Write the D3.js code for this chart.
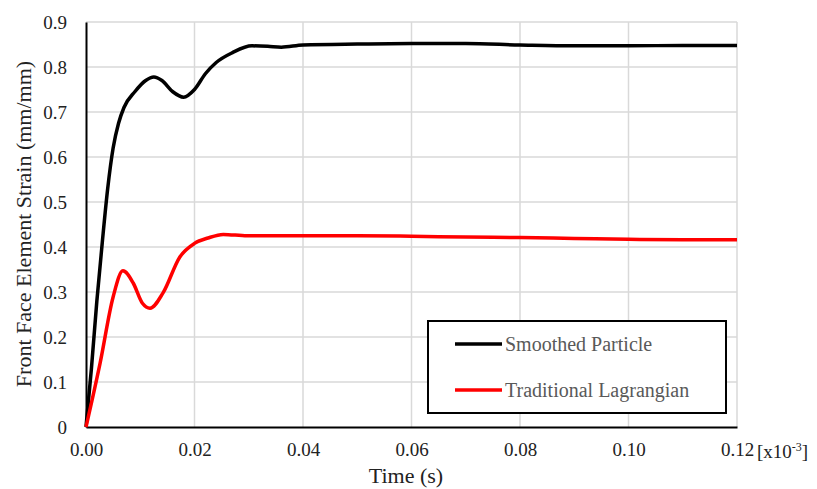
<!DOCTYPE html>
<html>
<head>
<meta charset="utf-8">
<script src="https://cdn.jsdelivr.net/npm/d3@7"></script>
<style>
  body { margin: 0; background: #fff; }
  svg text { font-family: "Liberation Serif", "Times New Roman", serif !important; }
</style>
</head>
<body>
<div class="canvas"></div>
<script>
// data (time in 1e-3 s, strain in mm/mm)
const smoothedTime = [0, 0.001, 0.002, 0.003, 0.004, 0.005, 0.006, 0.007, 0.009, 0.011, 0.0125, 0.014, 0.016, 0.018, 0.02, 0.022, 0.024, 0.027, 0.0306, 0.0335, 0.036, 0.04, 0.05, 0.06, 0.07, 0.08, 0.09, 0.1, 0.11, 0.12];
const smoothedStrain = [0.0, 0.13, 0.28, 0.41, 0.53, 0.62, 0.675, 0.71, 0.745, 0.77, 0.778, 0.77, 0.745, 0.733, 0.75, 0.785, 0.81, 0.832, 0.847, 0.846, 0.844, 0.849, 0.851, 0.852, 0.852, 0.849, 0.847, 0.847, 0.848, 0.848];
const lagrangeTime = [0, 0.0026, 0.005, 0.0068, 0.0087, 0.0104, 0.0118, 0.0142, 0.0173, 0.02, 0.0225, 0.0253, 0.0297, 0.04, 0.05, 0.06, 0.07, 0.08, 0.09, 0.1, 0.11, 0.12];
const lagrangeStrain = [0.0, 0.142, 0.289, 0.347, 0.32, 0.275, 0.264, 0.298, 0.378, 0.408, 0.42, 0.428, 0.425, 0.425, 0.425, 0.424, 0.422, 0.421, 0.419, 0.417, 0.416, 0.416];
const seriesNames = ["Smoothed Particle", "Traditional Lagrangian"];
const seriesColors = ["#000000", "#ff0000"];
const xTicks = [0, 0.02, 0.04, 0.06, 0.08, 0.10, 0.12];
const yTicks = [0, 0.1, 0.2, 0.3, 0.4, 0.5, 0.6, 0.7, 0.8, 0.9];

const width = 817, height = 489;
const plotLeft = 86, plotRight = 737, plotTop = 22, plotBottom = 427;

const svg = d3.select(".canvas").append("svg")
  .attr("width", width).attr("height", height);

const x = d3.scaleLinear().domain([0, 0.12]).range([plotLeft, plotRight]);
const y = d3.scaleLinear().domain([0, 0.9]).range([plotBottom, plotTop]);

// grid
svg.append("g").selectAll("line").data(xTicks.slice(1)).join("line")
  .attr("x1", d => x(d)).attr("x2", d => x(d))
  .attr("y1", plotTop).attr("y2", plotBottom)
  .attr("stroke", "#d9d9d9").attr("stroke-width", 1.5);
svg.append("g").selectAll("line").data(yTicks.slice(1)).join("line")
  .attr("x1", plotLeft).attr("x2", plotRight)
  .attr("y1", d => y(d)).attr("y2", d => y(d))
  .attr("stroke", "#d9d9d9").attr("stroke-width", 1.5);

// axes
const xAxis = svg.append("g").attr("transform", `translate(0,${plotBottom})`)
  .call(d3.axisBottom(x).tickValues(xTicks).tickSize(0).tickPadding(16)
    .tickFormat(d3.format(".2f")));
const yAxis = svg.append("g").attr("transform", `translate(${plotLeft},0)`)
  .call(d3.axisLeft(y).tickValues(yTicks).tickSize(0).tickPadding(19)
    .tickFormat(d => d === 0 ? "0" : d3.format(".1f")(d)));
[xAxis, yAxis].forEach(a => {
  a.attr("font-size", 19);
  a.select(".domain").attr("stroke", "#000").attr("stroke-width", 2);
  a.selectAll("text").attr("fill", "#222");
});

// unit note after last x tick
const unit = svg.append("text").attr("x", x(0.12) + 20).attr("y", 458)
  .attr("font-size", 19).attr("fill", "#222");
unit.append("tspan").text("[x10");
unit.append("tspan").attr("font-size", 12).attr("dy", -7).text("-3");
unit.append("tspan").attr("dy", 7).text("]");

// titles
svg.append("text").attr("x", 406).attr("y", 483)
  .attr("text-anchor", "middle").attr("font-size", 22).attr("fill", "#222")
  .text("Time (s)");
svg.append("text")
  .attr("transform", `translate(31,224) rotate(-90)`)
  .attr("text-anchor", "middle").attr("font-size", 22).attr("fill", "#222")
  .text("Front Face Element Strain (mm/mm)");

// lines
const line = d3.line().x(d => x(d[0])).y(d => y(d[1])).curve(d3.curveMonotoneX);
const series = [
  d3.zip(smoothedTime, smoothedStrain),
  d3.zip(lagrangeTime, lagrangeStrain)
];
svg.append("g").selectAll("path").data(series).join("path")
  .attr("d", line)
  .attr("fill", "none")
  .attr("stroke", (d, i) => seriesColors[i])
  .attr("stroke-width", 3.5)
  .attr("stroke-linejoin", "round");

// legend
const lg = svg.append("g");
lg.append("rect").attr("x", 428).attr("y", 321).attr("width", 298).attr("height", 92)
  .attr("fill", "#fff").attr("stroke", "#000").attr("stroke-width", 2);
seriesNames.forEach((name, i) => {
  const ly = 344 + i * 46;
  lg.append("line").attr("x1", 455).attr("x2", 502).attr("y1", ly).attr("y2", ly)
    .attr("stroke", seriesColors[i]).attr("stroke-width", 3.5);
  lg.append("text").attr("x", 505).attr("y", ly + 7).attr("font-size", 20)
    .attr("fill", "#595959").text(name);
});
</script>
</body>
</html>
